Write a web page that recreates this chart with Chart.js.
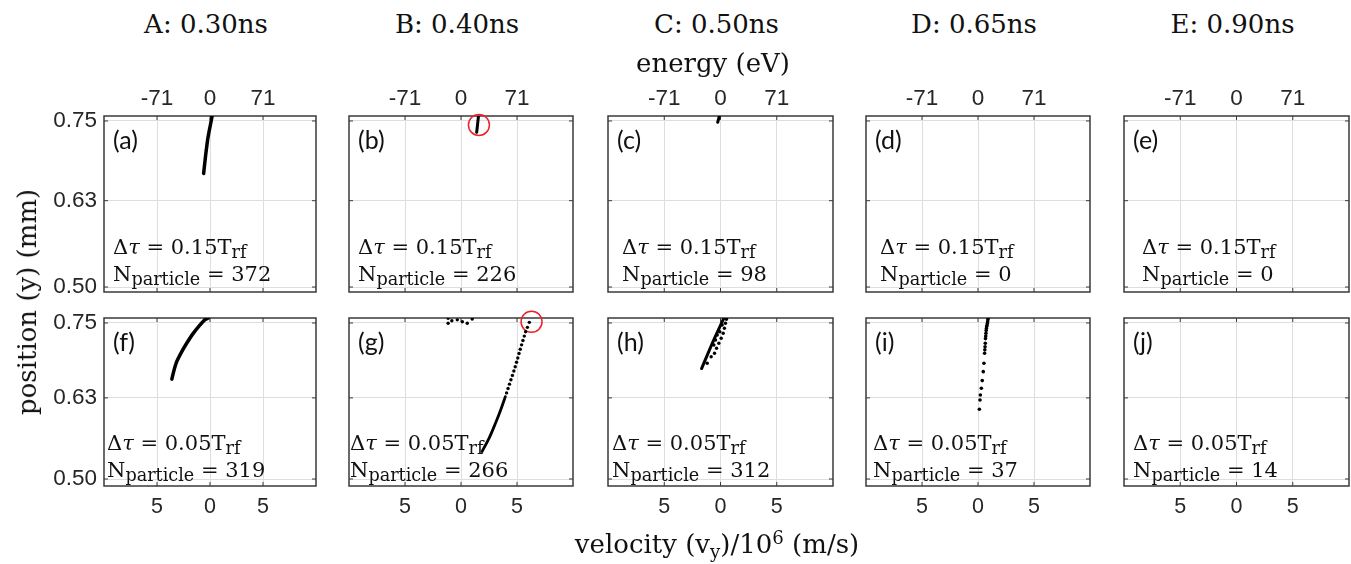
<!DOCTYPE html>
<html>
<head>
<meta charset="utf-8">
<script src="https://cdn.jsdelivr.net/npm/chart.js@4.4.1/dist/chart.umd.min.js"></script>
<style>
  html, body { margin: 0; padding: 0; background: #fff; }
  body { width: 1351px; height: 564px; position: relative; overflow: hidden; }
  canvas { position: absolute; }
  .t { position: absolute; white-space: nowrap; line-height: 1; color: #111; }
  .serif { font-family: 'DejaVu Serif', serif; }
  .tag { font-family: 'Lato', sans-serif; font-size: 25px; }
  .sub { font-size: 0.84em; position: relative; top: 0.22em; }
  .xsub { font-size: 0.7em; position: relative; top: 0.3em; }
  .xsup { font-size: 0.7em; position: relative; top: -0.5em; }
</style>
</head>
<body>
<script>
// ---- labels ----
const columnTitles = ['A: 0.30ns', 'B: 0.40ns', 'C: 0.50ns', 'D: 0.65ns', 'E: 0.90ns'];
const panelTags = ['(a)', '(b)', '(c)', '(d)', '(e)', '(f)', '(g)', '(h)', '(i)', '(j)'];
const rowSteps = ['0.15', '0.05'];
const particlesTop = [372, 226, 98, 0, 0];
const particlesBottom = [319, 266, 312, 37, 14];

// ---- axis ticks ----
const velocityTicks = [-5, 0, 5];          // 10^6 m/s
const energyTicks = ['-71', '0', '71'];     // eV at the same positions
const positionTicks = [0.50, 0.63, 0.75];   // mm

// ---- particle tracks: [velocity (10^6 m/s), position (mm)] ----
const trackA = [[0.19, 0.757], [0.05, 0.745], [-0.10, 0.733], [-0.22, 0.722], [-0.31, 0.711],
                [-0.40, 0.700], [-0.47, 0.690], [-0.54, 0.680], [-0.60, 0.671]];
const trackB = [[1.55, 0.756], [1.48, 0.745], [1.40, 0.733]];
const ringB = [[1.6, 0.744]];
const trackC = [[-0.10, 0.7575], [-0.25, 0.748]];

const trackF = [[-0.16, 0.758], [-0.50, 0.755], [-0.94, 0.747], [-1.60, 0.733], [-2.20, 0.7175],
                [-2.70, 0.703], [-3.14, 0.688], [-3.40, 0.674], [-3.60, 0.660]];
const trackG = [[1.88, 0.544], [2.50, 0.565], [3.07, 0.589], [3.55, 0.611], [3.96, 0.632]];
const dotsG = [[4.07, 0.638], [4.20, 0.645], [4.33, 0.652], [4.46, 0.659], [4.59, 0.666],
               [4.72, 0.673], [4.84, 0.680], [4.96, 0.687], [5.07, 0.694], [5.18, 0.701],
               [5.29, 0.708], [5.41, 0.715], [5.53, 0.722], [5.65, 0.729], [5.77, 0.736],
               [5.93, 0.743], [6.10, 0.751]];
const spillG = [[-1.15, 0.7575], [-1.15, 0.7495], [-0.82, 0.7537], [-0.33, 0.755],
                [0.12, 0.752], [0.56, 0.7495], [1.00, 0.7564]];
const ringG = [[6.3, 0.752]];
const trackH = [[-1.68, 0.677], [-0.73, 0.7175], [0.29, 0.7575]];
const dotsH = [[-1.18, 0.6854], [-0.83, 0.696], [-0.53, 0.7014], [-0.35, 0.7095], [-0.15, 0.7175],
               [0.06, 0.7255], [0.24, 0.7335], [0.35, 0.7415], [0.44, 0.7495], [0.53, 0.756],
               [-0.44, 0.7228], [-0.06, 0.736], [0.15, 0.7468], [-0.29, 0.7308], [-0.59, 0.7147]];
const dotsI = [[0.91, 0.7575], [0.88, 0.755], [0.86, 0.752], [0.83, 0.749], [0.80, 0.746],
               [0.77, 0.744], [0.75, 0.741], [0.73, 0.738], [0.71, 0.7335], [0.69, 0.729],
               [0.67, 0.725], [0.65, 0.7175], [0.63, 0.712], [0.61, 0.707], [0.59, 0.7014],
               [0.53, 0.6854], [0.47, 0.672], [0.38, 0.6577], [0.30, 0.6454], [0.21, 0.6347],
               [0.18, 0.6267], [0.12, 0.6117]];

// ---- grid geometry (page pixels) ----
const colLeft = [104, 349, 608, 866, 1124];
const colWidth = [212, 224, 225, 224, 225];
const rowTop = [116, 318];
const rowHeight = [176, 168];
const yMin = [0.4925, 0.4888];
const yMax = [0.7575, 0.758];
const noteOffset = [[9, 9, 14, 14, 18], [3, 1, 4, 7, 9]];
const noteBaselines = [[255, 282], [451, 478]];
const PAD_L = 70, PAD_R = 14, PAD_T = 40, PAD_B = 40;

const INK = '#262626';
const GRID = '#dedede';

const pts = arr => arr.map(([x, y]) => ({ x, y }));
const lineSet = (arr, w) => ({ data: pts(arr), showLine: true, borderColor: '#000', borderWidth: w,
  pointRadius: 0, tension: 0.3, borderCapStyle: 'round' });
const dotSet = (arr, r) => ({ data: pts(arr), showLine: false, pointRadius: r,
  pointBackgroundColor: '#000', pointBorderWidth: 0 });
const ringSet = arr => ({ data: pts(arr), showLine: false, pointRadius: 10.5, pointBorderWidth: 1.5,
  pointBorderColor: '#e8232a', pointBackgroundColor: 'rgba(0,0,0,0)', clip: false });

const panelSets = [
  [lineSet(trackA, 3.5)],
  [lineSet(trackB, 3), ringSet(ringB)],
  [lineSet(trackC, 3)],
  [],
  [],
  [lineSet(trackF, 3.5)],
  [lineSet(trackG, 2.8), dotSet(dotsG, 1.7), dotSet(spillG, 1.7), ringSet(ringG)],
  [lineSet(trackH, 3), dotSet(dotsH, 1.7)],
  [dotSet(dotsI, 1.8)],
  []
];

// box outline with inward tick marks
const framePlugin = {
  id: 'frame',
  beforeDatasetsDraw(chart) {
    const { ctx, chartArea: a, scales } = chart;
    ctx.save();
    ctx.strokeStyle = '#3a3a3a';
    ctx.lineWidth = 1.5;
    ctx.strokeRect(a.left, a.top, a.right - a.left, a.bottom - a.top);
    ctx.lineWidth = 1;
    ctx.beginPath();
    velocityTicks.forEach(v => {
      const px = scales.x.getPixelForValue(v);
      ctx.moveTo(px, a.top); ctx.lineTo(px, a.top + 4);
      ctx.moveTo(px, a.bottom); ctx.lineTo(px, a.bottom - 4);
    });
    positionTicks.forEach(v => {
      const py = scales.y.getPixelForValue(v);
      ctx.moveTo(a.left, py); ctx.lineTo(a.left + 4, py);
      ctx.moveTo(a.right, py); ctx.lineTo(a.right - 4, py);
    });
    ctx.stroke();
    ctx.restore();
  }
};

const tickFamily = "'Liberation Sans', Arial, sans-serif";

function makePanel(row, col) {
  const canvas = document.createElement('canvas');
  const w = colWidth[col] + PAD_L + PAD_R;
  const h = rowHeight[row] + PAD_T + PAD_B;
  canvas.width = w; canvas.height = h;
  canvas.style.left = (colLeft[col] - PAD_L) + 'px';
  canvas.style.top = (rowTop[row] - PAD_T) + 'px';
  canvas.style.width = w + 'px'; canvas.style.height = h + 'px';
  document.body.appendChild(canvas);

  const xTicks = s => { s.ticks = velocityTicks.map(v => ({ value: v })); };
  new Chart(canvas, {
    type: 'scatter',
    data: { datasets: panelSets[row * 5 + col] },
    options: {
      responsive: false,
      animation: false,
      events: [],
      layout: { padding: { left: 0, right: PAD_R, top: 0, bottom: 0 } },
      plugins: { legend: { display: false }, tooltip: { enabled: false } },
      scales: {
        x: {
          type: 'linear', position: 'bottom', min: -10, max: 10,
          afterBuildTicks: xTicks,
          afterFit: s => { s.height = PAD_B; },
          grid: { color: GRID, lineWidth: 1, drawTicks: false },
          border: { display: false },
          ticks: { display: row === 1, padding: 8, font: { family: tickFamily, size: 21.5 }, color: INK,
                   autoSkip: false, maxRotation: 0, callback: v => String(Math.abs(v)) }
        },
        xTop: {
          type: 'linear', position: 'top', min: -10, max: 10,
          afterBuildTicks: xTicks,
          afterFit: s => { s.height = PAD_T; },
          grid: { display: false, drawTicks: false },
          border: { display: false },
          ticks: { display: row === 0, padding: 4, font: { family: tickFamily, size: 22.5 }, color: INK,
                   autoSkip: false, maxRotation: 0,
                   callback: v => energyTicks[velocityTicks.indexOf(v)] }
        },
        y: {
          type: 'linear', position: 'left', min: yMin[row], max: yMax[row],
          afterBuildTicks: s => { s.ticks = positionTicks.map(v => ({ value: v })); },
          afterFit: s => { s.width = PAD_L; },
          grid: { color: GRID, lineWidth: 1, drawTicks: false },
          border: { display: false },
          ticks: { display: col === 0, padding: 7, font: { family: tickFamily, size: 22.5 }, color: INK,
                   autoSkip: false, callback: v => Number(v).toFixed(2) }
        }
      }
    },
    plugins: [framePlugin]
  });
}

function addText(html, cls, css) {
  const d = document.createElement('div');
  d.className = 't ' + cls;
  d.innerHTML = html;
  Object.assign(d.style, css);
  document.body.appendChild(d);
  return d;
}

for (let row = 0; row < 2; row++) {
  for (let col = 0; col < 5; col++) {
    makePanel(row, col);
    const left = colLeft[col];
    addText(panelTags[row * 5 + col], 'tag', { left: (left + 9) + 'px', top: (rowTop[row] + 26 - 15.5) + 'px' });
    const count = row === 0 ? particlesTop[col] : particlesBottom[col];
    const x = left + noteOffset[row][col];
    const [b1, b2] = noteBaselines[row];
    addText('\u0394<i>\u03c4</i> = ' + rowSteps[row] + 'T<span class="sub">rf</span>', 'serif',
            { left: x + 'px', top: (b1 - 17.8) + 'px', fontSize: '21px' });
    addText('N<span class="sub">particle</span> = ' + count, 'serif',
            { left: x + 'px', top: (b2 - 17.8) + 'px', fontSize: '21px' });
  }
}

columnTitles.forEach((t, i) => {
  addText(t, 'serif', { left: (colLeft[i] + colWidth[i] / 2 - 4) + 'px', top: '11px',
                        fontSize: '26px', transform: 'translateX(-50%)' });
});

addText('energy (eV)', 'serif', { left: '713px', top: '50px', fontSize: '26px', transform: 'translateX(-50%)' });
addText('velocity (v<span class="xsub">y</span>)/10<span class="xsup">6</span> (m/s)', 'serif',
        { left: '717px', top: '531px', fontSize: '26px', transform: 'translateX(-50%)' });
addText('position (y) (mm)', 'serif',
        { left: '27px', top: '302px', fontSize: '26px', transform: 'translate(-50%, -50%) rotate(-90deg)' });
</script>
</body>
</html>
